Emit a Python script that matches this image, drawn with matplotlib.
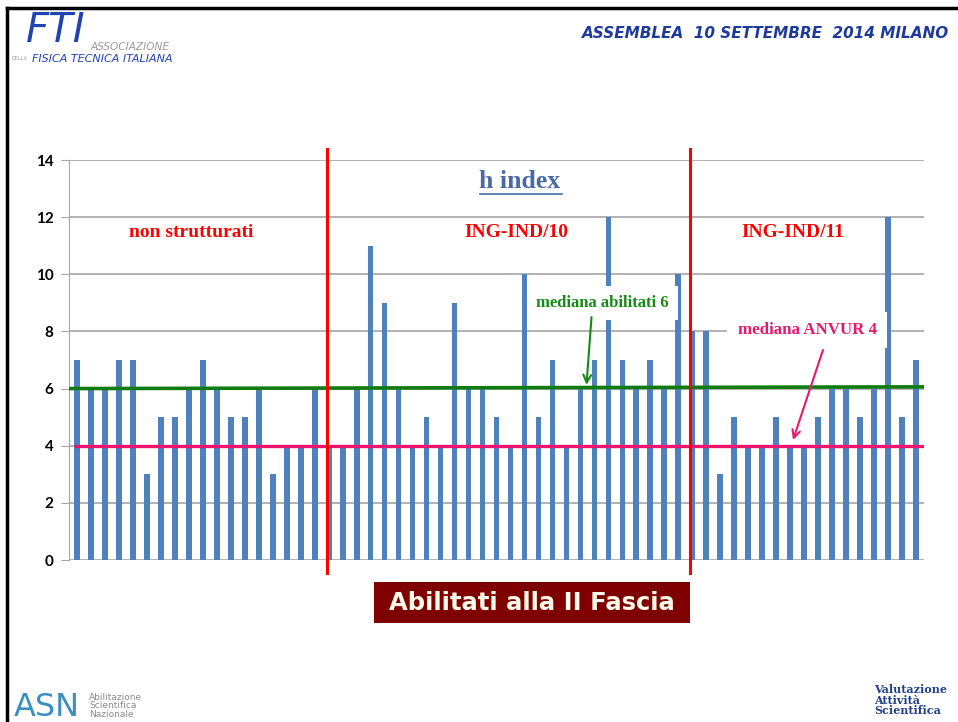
import matplotlib
matplotlib.use('Agg')
import matplotlib.pyplot as plt
from matplotlib.patches import Rectangle
from matplotlib.lines import Line2D

# h index of each abilitato, left to right
non_strutturati = [7, 6, 6, 7, 7, 3, 5, 5, 6, 7, 6, 5, 5, 6, 3, 4, 4, 6]
ing_ind_10 = [4, 4, 6, 11, 9, 6, 4, 5, 4, 9, 6, 6, 5, 4, 10, 5, 7, 4, 6, 7, 12, 7, 6, 7, 6, 10]
ing_ind_11 = [8, 8, 3, 5, 4, 4, 5, 4, 4, 5, 6, 6, 5, 6, 12, 5, 7]
group_names = ['non strutturati', 'ING-IND/10', 'ING-IND/11']
mediana_abilitati = 6
mediana_anvur = 4
y_ticks = [0, 2, 4, 6, 8, 10, 12, 14]

values = non_strutturati + ing_ind_10 + ing_ind_11
x = list(range(len(values)))
split1 = len(non_strutturati) - 0.12
split2 = len(non_strutturati) + len(ing_ind_10) - 0.14

W, H = 958, 722
fig = plt.figure(figsize=(W / 100, H / 100), dpi=100)

def fx(px):
    return px / W

def fy(py):
    return 1 - py / H

ax = fig.add_axes([fx(69), fy(560), fx(924) - fx(69), fy(160) - fy(560)])
ax.bar(x, values, width=0.42, color='#4F81BD', zorder=2)
ax.set_xlim(-0.55, len(values) - 0.45)
ax.set_ylim(0, 14)
ax.set_yticks(y_ticks)
ax.set_xticks([])
ax.grid(axis='y', color='#A6A6A6', lw=1.2, zorder=0)
for s in ['top', 'right', 'bottom']:
    ax.spines[s].set_visible(False)
ax.spines['left'].set_color('#A6A6A6')
ax.tick_params(axis='y', length=6, color='#A6A6A6', pad=5)
for lab in ax.get_yticklabels():
    lab.set_fontfamily('Lato')
    lab.set_fontweight('bold')
    lab.set_fontsize(11)

# mediane
ax.plot([-0.55, len(values) - 0.45], [mediana_abilitati, mediana_abilitati + 0.06],
        color='#107C10', lw=2.6, zorder=3, solid_capstyle='butt')
ax.plot([-0.2, len(values) - 0.45], [mediana_anvur, mediana_anvur],
        color='#F0146E', lw=2.4, zorder=3, solid_capstyle='butt')

# separatori gruppi
for xs in [split1, split2]:
    ax.plot([xs, xs], [-0.45, 14.4], color='#FF0000', lw=2.2, zorder=4, clip_on=False)

serif = 'Liberation Serif'
for name, px in zip(group_names, [191, 516, 793]):
    fig.text(fx(px), fy(232), name, color='#FF0000', fontsize=14, fontweight='bold',
             family=serif, ha='center', va='center', zorder=5)

fig.text(fx(520), fy(182), 'h index', color='#4A6AA5', fontsize=18.5, fontweight='bold',
         family=serif, ha='center', va='center')
fig.add_artist(Line2D([fx(480), fx(562)], [fy(194), fy(194)], color='#4A6AA5', lw=1.2))

# annotazioni (box bianco + freccia)
ax.text(37.56, 9.0, 'mediana abilitati 6', color='#168A16', fontsize=12,
        fontweight='bold', family=serif, ha='center', va='center', zorder=6,
        bbox=dict(boxstyle='square,pad=0.55', fc='white', ec='none'))
ax.annotate('', xy=(36.43, 6.13), xytext=(36.79, 8.5), zorder=6,
            arrowprops=dict(arrowstyle='->', color='#168A16', lw=1.5,
                            shrinkA=0, shrinkB=0, mutation_scale=14))
ax.text(52.2, 8.05, 'mediana ANVUR 4', color='#E8196B', fontsize=12.2,
        fontweight='bold', family=serif, ha='center', va='center', zorder=6,
        bbox=dict(boxstyle='square,pad=0.6', fc='white', ec='none'))
ax.annotate('', xy=(51.19, 4.2), xytext=(53.33, 7.35), zorder=6,
            arrowprops=dict(arrowstyle='->', color='#E8196B', lw=1.5,
                            shrinkA=0, shrinkB=0, mutation_scale=14))

# box titolo in basso
fig.add_artist(Rectangle((fx(374), fy(623)), fx(690) - fx(374), fy(582) - fy(623),
                         transform=fig.transFigure, fc='#7F0000', ec='none'))
fig.text(fx(532), fy(603), 'Abilitati alla II Fascia', color='#FFFBEA', fontsize=17.5,
         fontweight='bold', family='DejaVu Sans', ha='center', va='center')

# cornice slide
fig.add_artist(Line2D([fx(7), fx(958)], [fy(8), fy(8)], color='black', lw=2.5))
fig.add_artist(Line2D([fx(7), fx(7)], [fy(8), fy(722)], color='black', lw=2.5))

# intestazione
fig.text(fx(949), fy(33), 'ASSEMBLEA  10 SETTEMBRE  2014 MILANO', color='#1C3A9C',
         fontsize=11, fontweight='bold', style='italic', family='DejaVu Sans',
         ha='right', va='center')

# loghi
fig.text(fx(26), fy(31), 'FTI', color='#2244B0', fontsize=29, style='italic',
         family='DejaVu Sans', ha='left', va='center')
fig.text(fx(91), fy(47), 'ASSOCIAZIONE', color='#9A9A9A', fontsize=7.6, style='italic',
         family='DejaVu Sans', ha='left', va='center')
fig.text(fx(11), fy(59), 'DELLA', color='#9A9A9A', fontsize=3.5,
         family='DejaVu Sans', ha='left', va='center')
fig.text(fx(32), fy(59), 'FISICA TECNICA ITALIANA', color='#2244B0', fontsize=8,
         style='italic', family='DejaVu Sans', ha='left', va='center')

fig.text(fx(14), fy(707), 'ASN', color='#3A8FC0', fontsize=23,
         family='DejaVu Sans', ha='left', va='center')
fig.text(fx(89), fy(706), 'Abilitazione\nScientifica\nNazionale', color='#8A8A8A',
         fontsize=6.5, linespacing=0.95, family='DejaVu Sans', ha='left', va='center')
fig.text(fx(874), fy(700), 'Valutazione\nAttività\nScientifica', color='#22408A',
         fontsize=8, fontweight='bold', linespacing=0.9, family='DejaVu Serif',
         ha='left', va='center')

fig.savefig('out.png', dpi=100, facecolor='white')
